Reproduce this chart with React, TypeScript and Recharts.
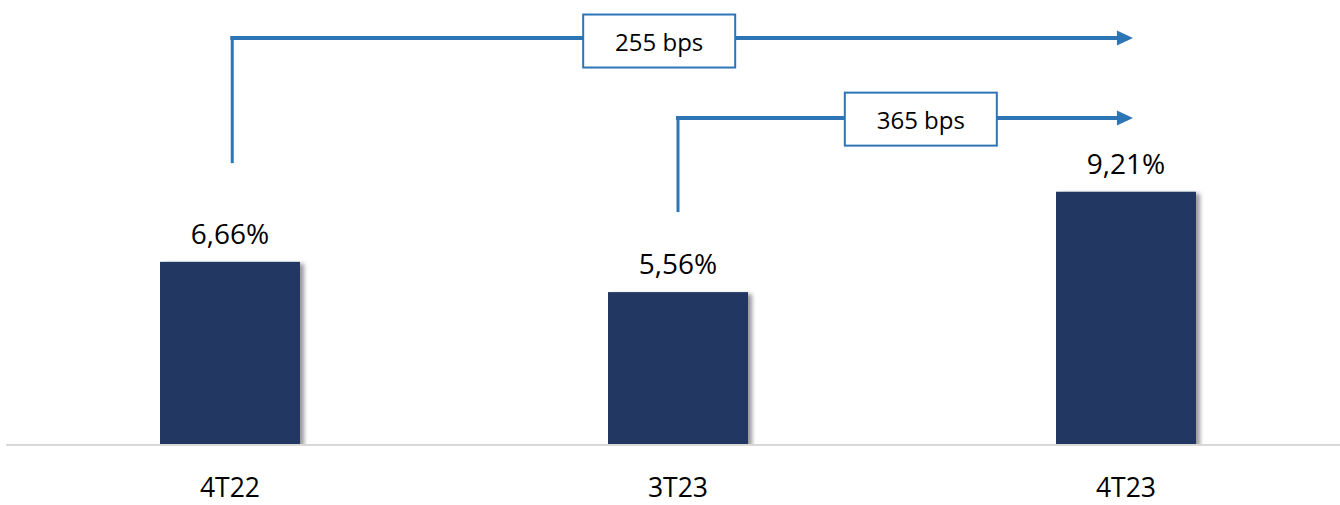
import React from 'react';
import { BarChart, Bar, XAxis, YAxis, LabelList, ReferenceLine, ReferenceDot } from 'recharts';

// ---- data ----
const categories = ['4T22', '3T23', '4T23'];
const values = [6.66, 5.56, 9.21];
const changeLabels = ['255 bps', '365 bps'];

const data = categories.map((c, i) => ({ idx: i, name: c, value: values[i] }));

// annotation geometry in data units (x: category index, y: %)
const arrowFromX = [0.005, 1.0];
const arrowFromY = [10.25, 8.47];
const arrowLevelY = [14.8, 11.89];
const arrowToX = [1.982, 1.982];
const boxCenterX = [0.958, 1.542];
const boxCenterY = [14.69, 11.85];

const BLUE = '#2E75B6';
const BAR = '#203864';
const FONT = '"Open Sans", "Noto Sans", sans-serif';
const BOX_W = 152;
const BOX_H = 53;
const X_UNIT_PX = 448;
const BOX_HALF = BOX_W / 2 / X_UNIT_PX;

const fmt = (v: number) => v.toFixed(2).replace('.', ',') + '%';

const BarShape = (props: any) => {
  const { x, y, width, height } = props;
  return <rect x={x} y={y} width={width} height={height} fill={BAR} filter="url(#barShadow)" />;
};

const ValueLabel = (props: any) => {
  const { x, y, width, value } = props;
  const cx = Number(x) + Number(width) / 2;
  const ty = Number(y) - 18;
  return (
    <text x={cx} y={ty} textAnchor="middle" fontFamily={FONT} fontSize={28} fill="#000">
      {fmt(Number(value))}
    </text>
  );
};

const CategoryTick = (props: any) => {
  const { x, y, payload } = props;
  return (
    <text x={x} y={y} dy={44} textAnchor="middle" fontFamily={FONT} fontSize={26.5} fill="#000">
      {categories[payload.value]}
    </text>
  );
};

const Arrowhead = (props: any) => {
  const { cx, cy } = props;
  return <path d={`M${cx - 1},${cy - 7.5} L${cx + 15},${cy} L${cx - 1},${cy + 7.5} Z`} fill={BLUE} />;
};

const makeBox = (label: string) => (props: any) => {
  const { cx, cy } = props;
  return (
    <g>
      <rect x={cx - BOX_W / 2} y={cy - BOX_H / 2} width={BOX_W} height={BOX_H} fill="#fff" stroke={BLUE} strokeWidth={2} />
      <text x={cx} y={cy + 9.5} textAnchor="middle" fontFamily={FONT} fontSize={24} fill="#000">
        {label}
      </text>
    </g>
  );
};

export default function App() {
  return (
    <div style={{ position: 'absolute', left: 0, top: 0, width: 1340, height: 505, overflow: 'hidden', background: '#fff' }}>
      <svg width={0} height={0} style={{ position: 'absolute' }}>
        <defs>
          <filter id="barShadow" x="-10%" y="-10%" width="130%" height="130%">
            <feDropShadow dx={4} dy={2} stdDeviation={2.2} floodColor="#000" floodOpacity={0.4} />
          </filter>
        </defs>
      </svg>
      <BarChart width={1350} height={505} data={data} margin={{ top: 5, right: 0, left: 6, bottom: 0 }}>
        <XAxis
          type="number"
          dataKey="idx"
          domain={[-0.5, 2.5]}
          ticks={[0, 1, 2]}
          allowDataOverflow
          tick={<CategoryTick />}
          tickLine={false}
          axisLine={{ stroke: '#D9D9D9', strokeWidth: 2 }}
          height={60}
        />
        <YAxis hide type="number" domain={[0, 16]} allowDataOverflow />
        <Bar dataKey="value" barSize={140} isAnimationActive={false} shape={<BarShape />}>
          <LabelList dataKey="value" content={<ValueLabel />} />
        </Bar>
        {changeLabels.map((label, i) => (
          <ReferenceLine
            key={`v${i}`}
            segment={[
              { x: arrowFromX[i], y: arrowFromY[i] },
              { x: arrowFromX[i], y: arrowLevelY[i] },
            ]}
            stroke={BLUE}
            strokeWidth={3}
          />
        ))}
        {changeLabels.map((label, i) => (
          <ReferenceLine
            key={`h1${i}`}
            segment={[
              { x: arrowFromX[i], y: arrowLevelY[i] },
              { x: boxCenterX[i] - BOX_HALF, y: arrowLevelY[i] },
            ]}
            stroke={BLUE}
            strokeWidth={4}
            strokeLinecap="square"
          />
        ))}
        {changeLabels.map((label, i) => (
          <ReferenceLine
            key={`h2${i}`}
            segment={[
              { x: boxCenterX[i] + BOX_HALF, y: arrowLevelY[i] },
              { x: arrowToX[i], y: arrowLevelY[i] },
            ]}
            stroke={BLUE}
            strokeWidth={4}
          />
        ))}
        {changeLabels.map((label, i) => (
          <ReferenceDot key={`a${i}`} x={arrowToX[i]} y={arrowLevelY[i]} r={1} shape={<Arrowhead />} />
        ))}
        {changeLabels.map((label, i) => (
          <ReferenceDot key={`b${i}`} x={boxCenterX[i]} y={boxCenterY[i]} r={1} shape={makeBox(label)} />
        ))}
      </BarChart>
    </div>
  );
}
